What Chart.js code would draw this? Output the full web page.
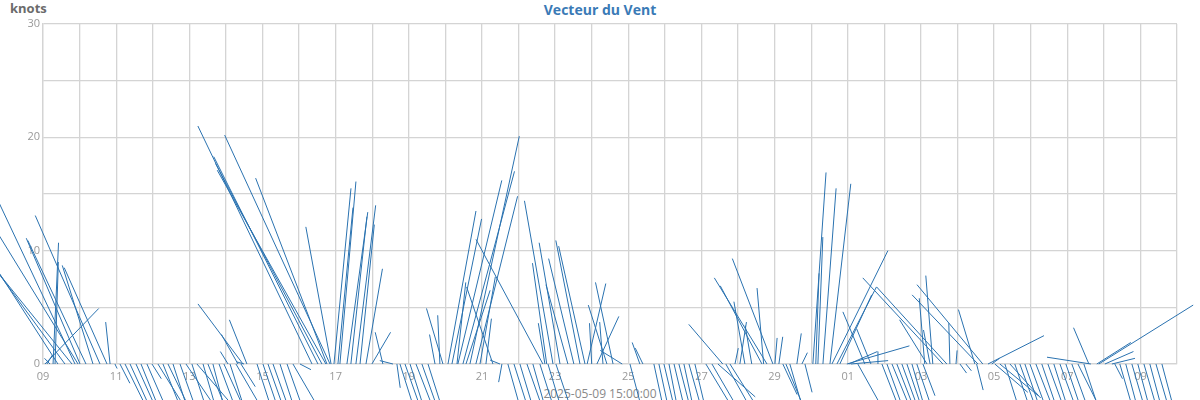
<!DOCTYPE html>
<html>
<head>
<meta charset="utf-8">
<script src="https://cdn.jsdelivr.net/npm/chart.js@4"></script>
<style>
  html, body { margin: 0; padding: 0; background: #ffffff; }
  #wrap { position: relative; width: 1200px; height: 400px; overflow: hidden; }
  #wrap canvas { position: absolute; left: 0; top: 0; z-index: 2; }
  .txt { position: absolute; z-index: 1; font-family: 'Open Sans', sans-serif; white-space: nowrap; }
  #title { left: 0; width: 1200px; top: 1px; text-align: center; font-weight: bold; font-size: 14px; line-height: 18px; color: #3a7ab6; }
  #yunit { left: 10px; top: 0px; font-weight: bold; font-size: 13px; line-height: 17px; color: #6b6b6b; }
  #xtitle { left: 0; width: 1200px; top: 386px; text-align: center; font-size: 12px; line-height: 16px; color: #8a8a8a; }
</style>
</head>
<body>
<div id="wrap">
  <div class="txt" id="title">Vecteur du Vent</div>
  <div class="txt" id="yunit">knots</div>
  <div class="txt" id="xtitle">2025-05-09 15:00:00</div>
  <canvas id="c" width="1200" height="400"></canvas>
</div>
<script>
// Observation times: hours since 2025-04-09 00:00
const hours = [1.3,2.6,4.6,6.6,7.9,9.8,14.4,19.0,21.0,23.0,
24.3,28.2,32.8,37.4,42.0,44.0,47.2,50.5,53.8,57.1,
61.0,64.3,68.2,71.5,75.4,78.7,82.0,85.3,89.9,93.8,
97.7,101.0,105.0,108.2,111.5,115.5,118.7,121.4,122.7,126.6,
127.9,129.9,131.2,131.9,133.8,140.4,144.3,147.6,150.9,155.5,
160.1,164.0,168.6,176.5,180.4,183.0,185.6,186.3,188.3,189.0,
190.9,193.5,194.8,199.4,202.0,205.3,208.0,211.9,215.8,223.0,
229.6,232.2,234.2,237.5,240.8,244.7,248.6,252.6,257.2,260.4,
262.4,265.7,268.3,271.6,272.2,275.5,277.5,280.1,284.0,286.7,
290.6,295.2,299.8,301.1,305.0,309.0,312.9,317.5,321.4,326.0,
328.0,329.3,330.5,331.3,334.6,336.5,339.2,344.4,348.3,352.3,
355.6,357.0,360.0,363.4,367.4,370.0,374.0,380.0,385.1,391.6,
393.6,400.8,404.1,407.4,410.7,414.0,417.2,420.5,423.8,427.7,
434.9,438.9,442.8,446.0,448.0,450.7,454.0,457.2,460.5,465.0,
471.7,472.8,475.0,478.9,480.2,482.8,485.4,487.4,490.0,494.6,
497.9,499.9,505.1,507.0,508.4,511.7,516.3,517.6,520.9,522.8,
527.4,528.7,530.0,534.6,539.2,543.2,547.8,550.4,553.7,557.0,
560.2,563.5,566.8,570.1,573.3,577.3,578.5,580.0,582.0,583.8,
590.4,593.0,595.0,599.0,601.6,605.5,611.4,612.5,613.4,616.6,
620.0,622.5,624.5,627.8,631.1,634.4,637.6,640.9,644.2,647.5,
651.4,655.3,659.3,663.2,667.2,671.1,675.0,679.0,682.9,686.2,
687.5,691.4,692.7,696.7,701.3,703.2,706.5,710.4,714.4,718.3,
722.3,726.2,730.2,734.1];

// East-west wind component (knots)
const uKnots = [4.9,0.5,-0.5,0.5,0.3,-6.4,-6.8,-7.1,-7.3,-7.8,
-4.9,-5.3,-2.8,-5.9,-3.9,-0.4,0.2,0.9,2.8,2.6,
2.8,2.5,2.7,0.85,3.2,2.5,3.0,2.0,2.2,3.5,
2.0,4.0,1.8,2.5,1.6,2.3,2.8,-0.7,2.0,3.0,
-1.5,1.3,-4.1,-0.7,-1.6,2.0,2.1,2.2,2.2,2.0,
2.2,3.0,1.0,-10.4,-9.5,-9.7,-9.9,-6.5,-9.6,-2.3,
1.55,1.37,1.46,1.9,1.46,1.8,1.3,1.5,1.7,-0.7,
-1.2,0.3,1.8,2.0,1.8,2.2,2.0,1.8,-0.5,-0.2,
-1.5,2.55,2.7,0.8,4.0,4.7,2.2,4.5,3.8,1.4,
0.5,-2.4,-0.9,-0.3,1.6,1.8,1.7,2.0,1.6,1.8,
-6.1,-0.6,-1.3,1.7,-2.6,1.9,-1.9,-2.0,-2.3,-2.2,
-2.4,1.7,-0.2,2.0,-0.3,-1.7,-1.6,-2.0,0.9,-0.7,
-0.7,1.0,1.0,1.1,0.9,1.1,1.2,1.0,1.3,1.1,
2.5,2.4,3.4,-3.1,2.3,2.6,0.3,0.6,-1.0,-0.6,
-3.8,-0.6,-4.8,-3.7,0.2,0.35,1.3,1.7,1.2,0.4,
0.5,0.65,1.2,0.3,0.45,1.2,1.9,5.1,3.6,2.9,
5.7,2.6,3.4,2.3,-2.0,-1.3,0.0,1.6,1.5,1.7,
1.6,1.5,1.4,1.2,1.4,1.1,-0.5,-2.5,-0.6,-0.64,
-7.3,-6.4,-0.1,0.1,0.6,0.5,-1.5,0.6,-6.0,-6.0,
5.1,0.7,3.0,3.5,1.3,2.8,1.4,1.5,1.4,1.5,
1.6,1.4,1.5,1.3,1.5,1.4,1.5,1.8,1.2,-1.4,
-4.0,3.1,8.6,2.6,2.1,0.7,1.2,1.1,1.2,1.1,
1.2,1.1,1.2,1.1];

// North-south wind component (knots)
const vKnots = [4.9,0.8,0.5,10.7,9.0,9.6,9.0,8.5,15.0,12.3,
11.1,10.9,8.7,13.1,8.5,3.7,-0.4,-1.7,-5.5,-5.5,
-6,-6,-6,-1.3,-5,-6,-6,-6,-6,-5,
-6,-4.5,-6,-6,-6,-6,-6,1.1,-6,-5,
2.6,-2,5.3,0.2,3.9,-6,-6,-6,-6,-6,
-6,-5,-0.5,21.0,18.3,17.7,17.1,16.4,20.2,12.1,
15.5,13.8,16.1,13.4,13.0,14.0,12.3,8.4,2.8,2.8,
0.3,-2.1,-5.5,-5.5,-5.5,-5.5,-5.5,-5.5,2.6,4.3,
4.9,13.5,12.8,7.2,16.2,17.0,6.5,20.1,14.8,7.7,
4.0,6.8,0.35,-1.6,-5.5,-5.5,-5.5,-5.5,-5.5,-5.5,
11.0,3.6,8.9,-5.5,14.4,-5.5,10.7,7.0,9.3,10.9,
10.4,7.1,3.6,4.2,3.7,5.2,7.2,1.2,-3.3,1.9,
1.4,-4.5,-4.5,-4.5,-4.5,-4.5,-4.5,-4.5,-4.5,-4.5,
-4,-4,-2.9,3.5,-4,-4,1.4,3.7,5.5,3.4,
6.9,6.7,7.6,9.3,2.3,2.4,-2.7,-4,-4,2.7,
1.0,-2.5,16.9,8.0,11.2,15.5,15.9,10.0,6.8,6.1,
1.6,1.1,0.3,-4,4.6,3.1,1.1,-4,-4,-4,
-4,-4,-4,-4,-4,-2.8,5.8,3.9,3.0,7.8,
7.6,6.8,3.6,1.2,-0.8,-0.6,4.8,-2.3,6.1,7.0,
2.5,0.5,-2.5,-2.8,-4,-3,-4,-4,-4,-4,
-4,-4,-4,-4,-4,-4,-4,-3.5,-3.5,3.2,
0.6,1.9,5.2,1.1,0.5,-1.3,-4,-4,-4,-4,
-4,-4,-4,-4];

// x-axis: days since 2025-04-09 (tick every day, label every 2nd day)
const startDate = new Date(Date.UTC(2025, 3, 9));
const dayCount = 31;
const yTicks = [0, 10, 20, 30];
const uScaleDays = 0.3; // horizontal extent of 1 knot of u, in days

function dayLabel(d) {
  const dt = new Date(startDate.getTime() + d * 86400000);
  return String(dt.getUTCDate()).padStart(2, '0');
}

const points = [];
for (let i = 0; i < hours.length; i++) {
  const t = hours[i] / 24;
  points.push({ x: t, y: 0 });
  points.push({ x: t + uKnots[i] * uScaleDays, y: vKnots[i] });
  points.push({ x: t, y: null });
}

const gridColor = '#d4d4d4';
const tickFont = { family: "'Open Sans', sans-serif", size: 11 };

new Chart(document.getElementById('c'), {
  type: 'line',
  data: {
    datasets: [{
      data: points,
      borderColor: '#2a72b0',
      borderWidth: 1,
      pointRadius: 0,
      pointHoverRadius: 0,
      tension: 0,
      spanGaps: false,
      clip: false,
      fill: false
    }]
  },
  options: {
    responsive: false,
    animation: false,
    events: [],
    layout: { padding: { top: 24, right: 23, left: 0, bottom: 0 } },
    plugins: { legend: { display: false }, title: { display: false }, tooltip: { enabled: false } },
    scales: {
      x: {
        type: 'linear',
        min: 0,
        max: dayCount,
        afterFit: (s) => { s.height = 36; },
        grid: { color: gridColor, lineWidth: 1.3, drawTicks: false },
        border: { display: true, color: gridColor, width: 1.3 },
        ticks: {
          stepSize: 1,
          autoSkip: false,
          maxRotation: 0,
          padding: 6,
          color: '#999999',
          font: tickFont,
          callback: (v) => (Math.round(v) % 2 === 0 ? dayLabel(Math.round(v)) : '')
        }
      },
      y: {
        type: 'linear',
        min: 0,
        max: 30,
        afterFit: (s) => { s.width = 43; },
        grid: { color: gridColor, lineWidth: 1.3, drawTicks: false },
        border: { display: true, color: gridColor, width: 1.3 },
        ticks: {
          stepSize: 5,
          padding: 3,
          color: '#999999',
          font: tickFont,
          callback: (v) => (yTicks.includes(v) ? String(v) : '')
        }
      }
    }
  }
});
</script>
</body>
</html>
